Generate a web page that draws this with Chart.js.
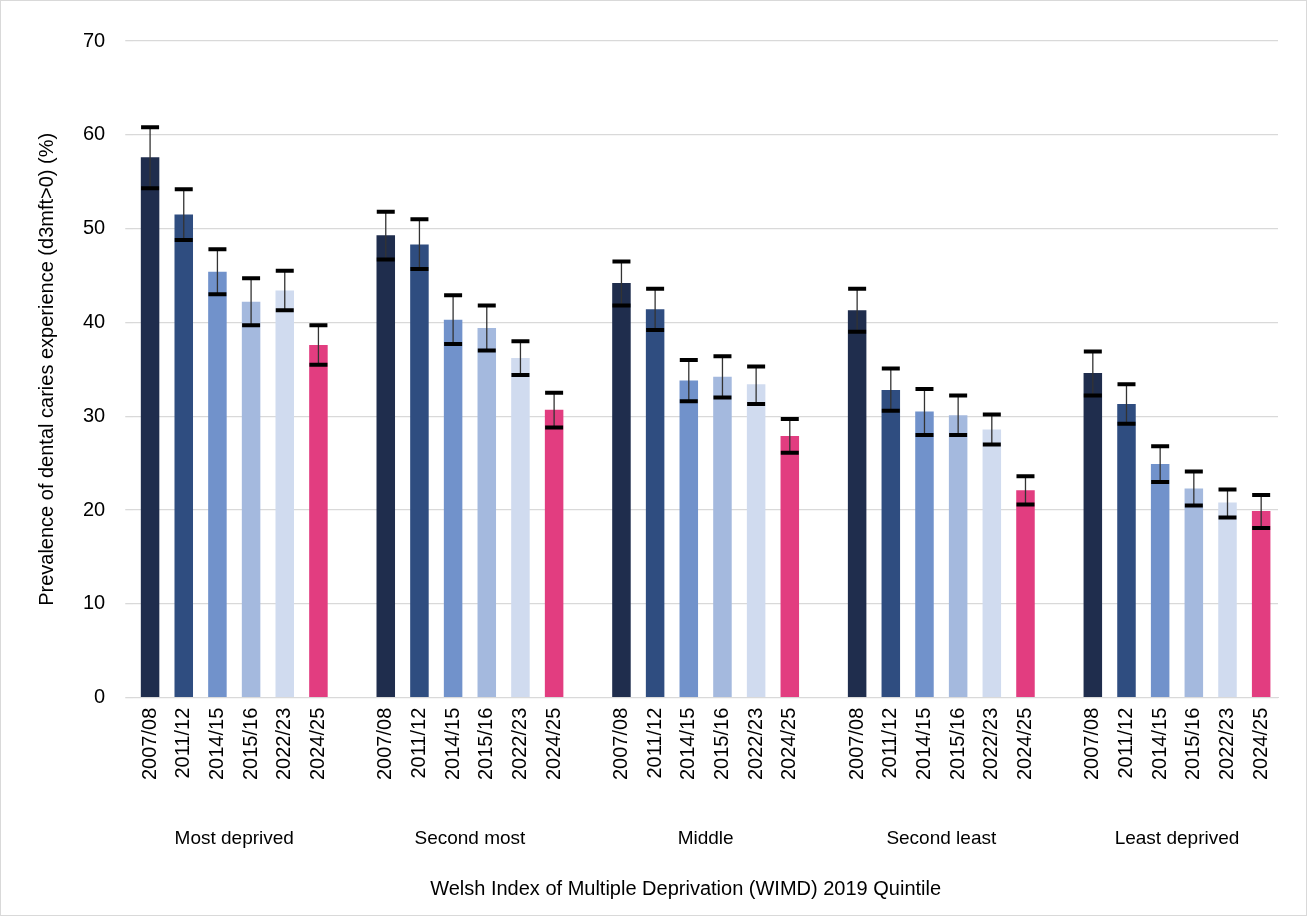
<!DOCTYPE html>
<html>
<head>
<meta charset="utf-8">
<script src="https://cdn.jsdelivr.net/npm/chart.js@4"></script>
<style>
  body { margin: 0; background: #fff; }
  #wrap { width: 1305px; height: 914px; border: 1px solid #d9d9d9; }
</style>
</head>
<body>
<div id="wrap"><canvas id="chart" width="1305" height="914"></canvas></div>
<script>
const years = ['2007/08', '2011/12', '2014/15', '2015/16', '2022/23', '2024/25'];
const quintiles = ['Most deprived', 'Second most', 'Middle', 'Second least', 'Least deprived'];
const yearColours = ['#1f2d4d', '#2f4d80', '#7192cb', '#a4b9de', '#d0dbef', '#e23d80'];

// values per quintile, in year order
const prevalence = [
  [57.6, 51.5, 45.4, 42.2, 43.4, 37.6],
  [49.3, 48.3, 40.3, 39.4, 36.2, 30.7],
  [44.2, 41.4, 33.8, 34.2, 33.4, 27.9],
  [41.3, 32.8, 30.5, 30.1, 28.6, 22.1],
  [34.6, 31.3, 24.9, 22.3, 20.8, 19.9]
];
const lowerCI = [
  [54.3, 48.8, 43.0, 39.7, 41.3, 35.5],
  [46.7, 45.7, 37.7, 37.0, 34.4, 28.8],
  [41.8, 39.2, 31.6, 32.0, 31.3, 26.1],
  [39.0, 30.6, 28.0, 28.0, 27.0, 20.6],
  [32.2, 29.2, 23.0, 20.5, 19.2, 18.1]
];
const upperCI = [
  [60.8, 54.2, 47.8, 44.7, 45.5, 39.7],
  [51.8, 51.0, 42.9, 41.8, 38.0, 32.5],
  [46.5, 43.6, 36.0, 36.4, 35.3, 29.7],
  [43.6, 35.1, 32.9, 32.2, 30.2, 23.6],
  [36.9, 33.4, 26.8, 24.1, 22.2, 21.6]
];
const yTicks = [0, 10, 20, 30, 40, 50, 60, 70];

// flatten with one empty slot between quintiles
const labels = [], values = [], colours = [], lo = [], hi = [];
quintiles.forEach((q, qi) => {
  years.forEach((y, yi) => {
    labels.push(y);
    values.push(prevalence[qi][yi]);
    colours.push(yearColours[yi]);
    lo.push(lowerCI[qi][yi]);
    hi.push(upperCI[qi][yi]);
  });
  if (qi < quintiles.length - 1) {
    labels.push(''); values.push(null); colours.push('transparent'); lo.push(null); hi.push(null);
  }
});

const font = "'Liberation Sans', Arial, sans-serif";

const errorBars = {
  id: 'errorBars',
  afterDatasetsDraw(chart) {
    const { ctx, scales: { x, y } } = chart;
    ctx.save();
    lo.forEach((l, i) => {
      if (l === null) return;
      const px = x.getPixelForValue(i);
      const yl = y.getPixelForValue(l), yh = y.getPixelForValue(hi[i]);
      ctx.strokeStyle = '#333';
      ctx.lineWidth = 1.3;
      ctx.beginPath(); ctx.moveTo(px, yl); ctx.lineTo(px, yh); ctx.stroke();
      ctx.strokeStyle = '#000';
      ctx.lineWidth = 4;
      ctx.beginPath();
      ctx.moveTo(px - 9, yl); ctx.lineTo(px + 9, yl);
      ctx.moveTo(px - 9, yh); ctx.lineTo(px + 9, yh);
      ctx.stroke();
    });
    ctx.restore();
  }
};

const groupLabels = {
  id: 'groupLabels',
  afterDraw(chart) {
    const { ctx, scales: { x } } = chart;
    ctx.save();
    ctx.fillStyle = '#000';
    ctx.textAlign = 'center';
    ctx.textBaseline = 'middle';
    ctx.font = '19px ' + font;
    quintiles.forEach((q, qi) => {
      const a = x.getPixelForValue(qi * 7), b = x.getPixelForValue(qi * 7 + 5);
      ctx.fillText(q, (a + b) / 2, 838);
    });
    ctx.font = '20px ' + font;
    ctx.fillText('Welsh Index of Multiple Deprivation (WIMD) 2019 Quintile', (x.left + x.right) / 2 - 20, 888);
    ctx.restore();
  }
};

new Chart(document.getElementById('chart'), {
  type: 'bar',
  data: {
    labels,
    datasets: [{ data: values, backgroundColor: colours, barPercentage: 0.55, categoryPercentage: 1 }]
  },
  options: {
    responsive: false,
    animation: false,
    layout: { padding: { top: 40, right: 28, bottom: 133, left: 30 } },
    plugins: { legend: { display: false }, tooltip: { enabled: false } },
    scales: {
      x: {
        grid: { display: false },
        border: { color: '#d9d9d9' },
        ticks: { autoSkip: false, minRotation: 90, maxRotation: 90, padding: 2, color: '#000', font: { size: 20, family: font } }
      },
      y: {
        min: 0, max: 70,
        afterBuildTicks(axis) { axis.ticks = yTicks.map(v => ({ value: v })); },
        grid: { color: '#d9d9d9', lineWidth: 1.3 },
        border: { display: false },
        ticks: { color: '#000', padding: 20, font: { size: 20, family: font } },
        title: { display: true, text: 'Prevalence of dental caries experience (d3mft>0) (%)', color: '#000', font: { size: 20, family: font } }
      }
    }
  },
  plugins: [errorBars, groupLabels]
});
</script>
</body>
</html>
